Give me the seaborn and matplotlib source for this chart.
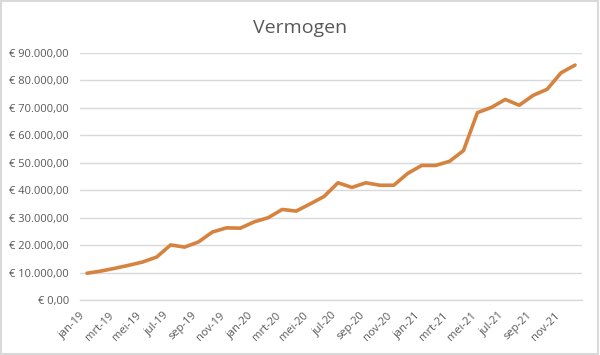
import numpy as np
import pandas as pd
import matplotlib
matplotlib.use("Agg")
import matplotlib.pyplot as plt
import seaborn as sns

# maanden jan-19 .. dec-21
maanden = ["jan", "feb", "mrt", "apr", "mei", "jun", "jul", "aug", "sep", "okt", "nov", "dec"]
jaren = ["19", "20", "21"]
labels = [m + "-" + j for j in jaren for m in maanden]

vermogen = [
    9800, 10600, 11600, 12700, 13900, 15700, 20100, 19300, 21200, 24800, 26300, 26200,
    28500, 30000, 33000, 32400, 35000, 37700, 42700, 41000, 42700, 41800, 41800, 46100,
    49000, 49000, 50500, 54400, 68200, 70100, 73000, 70900, 74500, 76700, 82700, 85500,
]

df = pd.DataFrame({"maand": np.arange(len(labels)), "vermogen": vermogen})

sns.set_style("white")
plt.rcParams["font.family"] = ["Open Sans", "DejaVu Sans"]

fig = plt.figure(figsize=(6, 3.55), dpi=100)
ax = fig.add_axes([80 / 600, 1 - 300.2 / 355, 502 / 600, (300.2 - 52.7) / 355])

sns.lineplot(data=df, x="maand", y="vermogen", ax=ax, color="#D5833F", linewidth=2.6,
             solid_joinstyle="round", solid_capstyle="round")

ax.set_xlim(-0.5, len(labels) - 0.5)
ax.set_ylim(0, 90000)
ax.set_yticks(np.arange(0, 90001, 10000))
ax.set_yticklabels(["€ " + f"{v:,.2f}".replace(",", "X").replace(".", ",").replace("X", ".")
                    for v in np.arange(0, 90001, 10000)])
ax.yaxis.grid(True, color="#D9D9D9", linewidth=1)
ax.set_axisbelow(True)

tick_pos = np.arange(-0.5, len(labels), 2)
ax.set_xticks(tick_pos)
ax.set_xticklabels([labels[int(p + 0.5)] if int(p + 0.5) < len(labels) else "" for p in tick_pos],
                   rotation=45, ha="right", rotation_mode="anchor")

for s in ["top", "right", "left"]:
    ax.spines[s].set_visible(False)
ax.spines["bottom"].set_color("#D9D9D9")
ax.spines["bottom"].set_linewidth(1)
ax.tick_params(axis="x", length=4, color="#D9D9D9", labelsize=8, labelcolor="#595959", pad=3)
ax.tick_params(axis="y", length=0, labelsize=8, labelcolor="#595959", pad=8)
ax.set_xlabel("")
ax.set_ylabel("")

fig.text(0.5, 1 - 28 / 355, "Vermogen", ha="center", va="center", fontsize=14, color="#595959")

fig.patches.append(plt.Rectangle((0.002, 0.003), 0.995, 0.994, transform=fig.transFigure,
                                 fill=False, edgecolor="#D9D9D9", linewidth=1.5))

fig.savefig("out.png", dpi=100)
